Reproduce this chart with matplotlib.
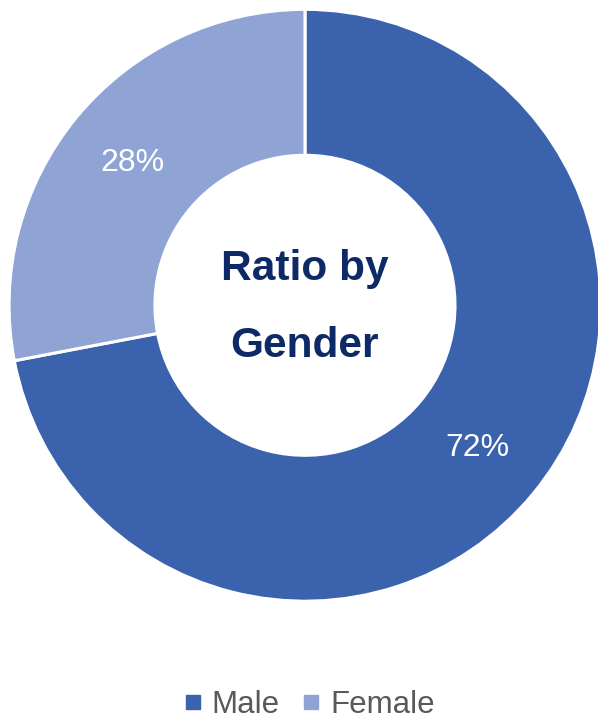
import matplotlib.pyplot as plt
from matplotlib.lines import Line2D

labels = ['Male', 'Female']
shares = [72, 28]
colors = ['#3B63AD', '#8FA4D4']

plt.rcParams['font.family'] = ['Liberation Sans', 'DejaVu Sans']

fig = plt.figure(figsize=(5.98, 7.2), dpi=100)
ax = fig.add_axes([0.015, 0.165, 0.99, 0.822])

wedges, texts, autotexts = ax.pie(
    shares,
    colors=colors,
    startangle=90,
    counterclock=False,
    radius=1.0,
    autopct='%d%%',
    pctdistance=0.755,
    wedgeprops={'width': 0.493, 'edgecolor': 'white', 'linewidth': 2.2},
    textprops={'color': 'white', 'fontsize': 23},
)
ax.set_xlim(-1, 1)
ax.set_ylim(-1, 1)
ax.set_aspect('equal')
ax.axis('off')

ax.text(0, 0.085, 'Ratio by', ha='center', va='baseline',
        fontsize=30.5, fontweight='bold', color='#0E2A66')
ax.text(0, -0.176, 'Gender', ha='center', va='baseline',
        fontsize=30.5, fontweight='bold', color='#0E2A66')

handles = [Line2D([], [], marker='s', linestyle='none', markersize=9.5,
                  markerfacecolor=c, markeredgecolor=c) for c in colors]
fig.legend(handles, labels, loc='center', bbox_to_anchor=(0.513, 0.021),
           ncol=2, frameon=False, fontsize=22.5, labelcolor='#595959',
           handletextpad=0.15, columnspacing=0.55, handlelength=0.9)

fig.savefig('out.png', dpi=100)
